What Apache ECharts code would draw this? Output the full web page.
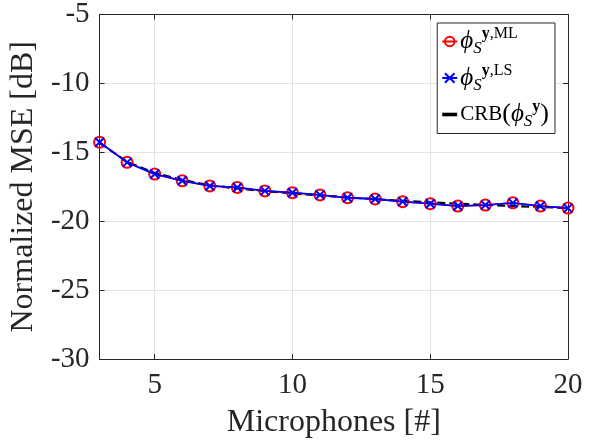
<!DOCTYPE html>
<html><head><meta charset="utf-8">
<script src="https://cdn.jsdelivr.net/npm/echarts@6/dist/echarts.min.js"></script>
<style>html,body{margin:0;padding:0;background:#fff}#c{width:592px;height:444px}</style>
</head><body><div id="c"></div>
<script>
const microphones = [3,4,5,6,7,8,9,10,11,12,13,14,15,16,17,18,19,20];
const mseML  = [-14.27,-15.73,-16.58,-17.07,-17.44,-17.55,-17.80,-17.93,-18.09,-18.30,-18.39,-18.58,-18.73,-18.90,-18.83,-18.67,-18.90,-19.05];
const mseLS  = [-14.27,-15.73,-16.58,-17.07,-17.44,-17.55,-17.80,-17.93,-18.09,-18.30,-18.39,-18.58,-18.73,-18.90,-18.83,-18.67,-18.90,-19.05];
const mseCRB = [-14.30,-15.70,-16.50,-17.00,-17.40,-17.62,-17.82,-17.98,-18.13,-18.27,-18.40,-18.52,-18.63,-18.73,-18.82,-18.90,-18.97,-19.04];
const xTicks = [5,10,15,20];

const F = 'Liberation Serif';
const axisColor = '#262626';
const gridColor = '#e3e3e3';

const pts = arr => microphones.map((m,i)=>[m, arr[i]]);

const chart = echarts.init(document.getElementById('c'));
const rich = {
  phi:{fontFamily:F, fontStyle:'italic', fontSize:25, color:'#000'},
  sub:{fontFamily:F, fontStyle:'italic', fontSize:17, color:'#000', padding:[15,0,0,0]},
  yb:{fontFamily:F, fontWeight:'bold', fontSize:16, color:'#000', padding:[0,0,15,0]},
  sup:{fontFamily:F, fontSize:16, color:'#000', padding:[0,0,15,0]},
  n:{fontFamily:F, fontSize:21, color:'#000'},
  par:{fontFamily:F, fontSize:26, color:'#000'}
};
const labelMap = {
  'ML': '{phi|ϕ}{sub|S}{yb|y}{sup|,ML}',
  'LS': '{phi|ϕ}{sub|S}{yb|y}{sup|,LS}',
  'CRB': '{n|CRB}{par|(}{phi|ϕ}{sub|S}{yb|y}{par|)}'
};
chart.setOption({
  animation:false,
  grid:{left:97, right:24, top:13, bottom:85},
  xAxis:[{
    type:'value', min:3, max:20,
    name:'Microphones [#]', nameLocation:'middle', nameGap:48,
    nameTextStyle:{fontFamily:F, fontSize:32, color:'#262626'},
    axisLine:{lineStyle:{color:axisColor}},
    axisTick:{inside:true, length:5, customValues:xTicks, lineStyle:{color:axisColor}},
    axisLabel:{customValues:xTicks, fontFamily:F, fontSize:29, color:'#262626', margin:12},
    splitLine:{show:true, customValues:xTicks, lineStyle:{color:gridColor}}
  },{
    type:'value', min:3, max:20, position:'top',
    axisLine:{lineStyle:{color:axisColor}},
    axisTick:{inside:true, length:5, customValues:xTicks, lineStyle:{color:axisColor}},
    axisLabel:{show:false}, splitLine:{show:false}
  }],
  yAxis:[{
    type:'value', min:-30, max:-5, interval:5,
    name:'Normalized MSE [dB]', nameLocation:'middle', nameGap:53,
    nameTextStyle:{fontFamily:F, fontSize:32, color:'#262626'},
    axisLine:{show:true, lineStyle:{color:axisColor}},
    axisTick:{show:true, inside:true, length:5, lineStyle:{color:axisColor}},
    axisLabel:{fontFamily:F, fontSize:29, color:'#262626', margin:10},
    splitLine:{show:true, lineStyle:{color:gridColor}}
  },{
    type:'value', min:-30, max:-5, interval:5, position:'right',
    axisLine:{show:true, lineStyle:{color:axisColor}},
    axisTick:{show:true, inside:true, length:5, lineStyle:{color:axisColor}},
    axisLabel:{show:false}, splitLine:{show:false}
  }],
  legend:{
    right:37, top:23, orient:'vertical', itemGap:5,
    itemWidth:15, itemHeight:12,
    backgroundColor:'#fff', borderColor:axisColor, borderWidth:1,
    padding:[3,6,3,4],
    data:['ML','LS',{name:'CRB', icon:'path://M0,0L10,0L10,2.4L0,2.4Z'}],
    formatter: n => labelMap[n],
    textStyle:{rich:rich, padding:[0,0,0,-2]}
  },
  series:[
    {name:'CRB', type:'line', data:pts(mseCRB), showSymbol:false, symbol:'none',
     lineStyle:{color:'#000', width:2.2, type:[8,4]}, itemStyle:{color:'#000'}, z:3},
    {name:'ML', type:'line', data:pts(mseML), symbol:'circle', symbolSize:11,
     lineStyle:{color:'#ff0000', width:1.5},
     itemStyle:{color:'rgba(0,0,0,0)', borderColor:'#ff0000', borderWidth:2}, z:4},
    {name:'LS', type:'line', data:pts(mseLS), symbol:'path://M0,0L10,10M10,0L0,10', symbolSize:9,
     lineStyle:{color:'#0000ff', width:1.8},
     itemStyle:{color:'#0000ff', borderColor:'#0000ff', borderWidth:2}, z:5}
  ]
});
</script></body></html>
